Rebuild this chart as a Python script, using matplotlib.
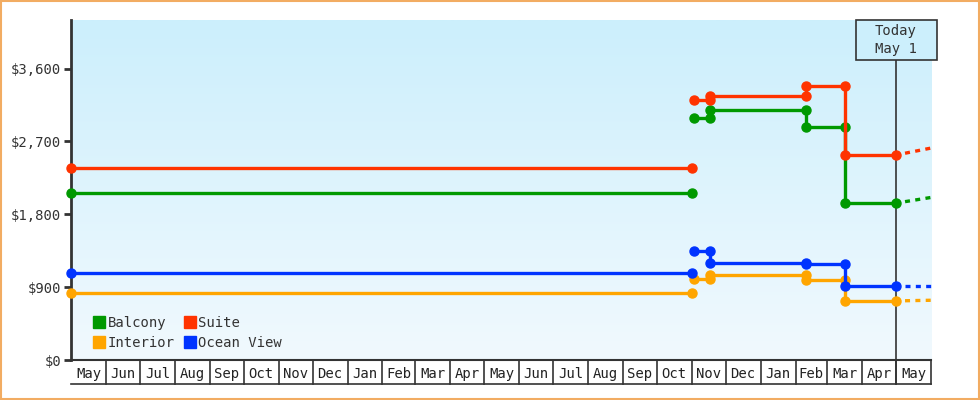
import matplotlib
matplotlib.use("Agg")
import matplotlib.pyplot as plt
import matplotlib.dates as mdates
import matplotlib.transforms as mtransforms
import numpy as np
from matplotlib.lines import Line2D
from matplotlib.colors import LinearSegmentedColormap
import datetime as dt

# ---------------- data ----------------
series_names = ["Balcony", "Interior", "Suite", "Ocean View"]
series_colors = ["#009900", "#ffa500", "#ff3300", "#0033ff"]

seg1_dates = ["2023-05-01", "2024-11-01"]
seg1_values = {"Balcony": 2066, "Interior": 825, "Suite": 2375, "Ocean View": 1072}

seg2_dates = ["2024-11-03", "2024-11-17", "2025-02-10", "2025-03-17", "2025-05-01"]
seg2_values = {
    "Balcony":    [2990, 3093, 2874, 1938],
    "Interior":   [1006, 1052, 986, 730],
    "Suite":      [3208, 3266, 3381, 2532],
    "Ocean View": [1345, 1200, 1190, 911],
}

forecast_date = "2025-06-01"
forecast_values = {"Balcony": 2008, "Interior": 738, "Suite": 2618, "Ocean View": 911}

month_labels = ["May", "Jun", "Jul", "Aug", "Sep", "Oct", "Nov", "Dec", "Jan", "Feb",
                "Mar", "Apr", "May", "Jun", "Jul", "Aug", "Sep", "Oct", "Nov", "Dec",
                "Jan", "Feb", "Mar", "Apr", "May"]
y_ticks = [0, 900, 1800, 2700, 3600]
y_tick_labels = ["$0", "$900", "$1,800", "$2,700", "$3,600"]
today_date = "2025-05-01"
today_label = "Today\nMay 1"

# ---------------- figure ----------------
plt.rcParams['font.family'] = ['DejaVu Sans Mono']
W, H = 980, 400
fig = plt.figure(figsize=(W / 100, H / 100), dpi=100)
fig.patch.set_facecolor("white")
fig.add_artist(plt.Rectangle((0.001, 0.0015), 0.998, 0.997, transform=fig.transFigure,
                             fill=False, edgecolor="#f2ac62", lw=1.5))

ax = fig.add_axes([71 / W, 40 / H, 860 / W, 340 / H])

def d(s):
    return mdates.date2num(dt.datetime.strptime(s, "%Y-%m-%d"))

x_start = d("2023-05-01")
x_end = d("2025-06-01")
ax.set_xlim(x_start, x_end)
ax.set_ylim(0, 4200)

# gradient background
top_col = "#cceffc"
cmap = LinearSegmentedColormap.from_list("bg", ["#f1f9fe", top_col])
grad = np.linspace(0, 1, 256).reshape(-1, 1)
ax.imshow(grad, extent=[0, 1, 0, 1], transform=ax.transAxes, cmap=cmap,
          origin="lower", aspect="auto", zorder=0)

lw = 2.4
for name, color in zip(series_names, series_colors):
    # segment 1
    xs = [d(s) for s in seg1_dates]
    ys = [seg1_values[name]] * 2
    ax.plot(xs, ys, color=color, lw=lw, marker="o", ms=6.5, zorder=3, clip_on=False)
    # segment 2 step
    cd = [d(s) for s in seg2_dates]
    vals = seg2_values[name]
    sx, sy = [], []
    for i, v in enumerate(vals):
        sx += [cd[i], cd[i + 1]]
        sy += [v, v]
    ax.plot(sx, sy, color=color, lw=lw, marker="o", ms=6.5, zorder=3, clip_on=False)
    # forecast (dashed)
    fv = forecast_values[name]
    x0 = cd[-1] + 8
    y0 = vals[-1] + (fv - vals[-1]) * 8 / (d(forecast_date) - cd[-1])
    ax.plot([x0, d(forecast_date)], [y0, fv], color=color, lw=lw,
            ls=(0, (1.5, 1.6)), zorder=3, clip_on=False)

# axes styling
for sp in ["top", "right"]:
    ax.spines[sp].set_visible(False)
ax.spines["left"].set_color("#333333")
ax.spines["left"].set_linewidth(2)
ax.spines["bottom"].set_color("#333333")
ax.spines["bottom"].set_linewidth(1.5)
ax.set_yticks(y_ticks)
ax.set_yticklabels(y_tick_labels)
ax.tick_params(axis="y", length=5, width=2, color="#333333", labelcolor="#333333",
               labelsize=10, pad=2)

# month boxes
month_starts = [d("2023-%02d-01" % m) for m in range(5, 13)] + \
               [d("2024-%02d-01" % m) for m in range(1, 13)] + \
               [d("2025-%02d-01" % m) for m in range(1, 7)]
mids = [(a + b) / 2 for a, b in zip(month_starts[:-1], month_starts[1:])]
ax.set_xticks(mids)
ax.set_xticklabels(month_labels)
ax.tick_params(axis="x", length=0, labelsize=10, labelcolor="#222222", pad=5)
trans = mtransforms.blended_transform_factory(ax.transData, ax.transAxes)
box_h = 24 / 340
for ms_ in month_starts[1:]:
    ax.add_line(Line2D([ms_, ms_], [0, -box_h], transform=trans, color="#333333",
                       lw=1.2, clip_on=False))
ax.add_line(Line2D([x_start, x_end], [-box_h, -box_h], transform=trans, color="#333333",
                   lw=1.2, clip_on=False))

# today marker
xt = d(today_date)
ax.add_line(Line2D([xt, xt], [-box_h, 1 - 40 / 340], transform=trans, color="#333333",
                   lw=1.2, clip_on=False, zorder=2))
xpix = ax.transData.transform((xt, 0))[0]
bw, bh = 81, 40
fig.add_artist(plt.Rectangle(((xpix - bw / 2) / W, (H - 20 - bh) / H), bw / W, bh / H,
                             transform=fig.transFigure, facecolor=top_col,
                             edgecolor="#333333", lw=1.2, zorder=4))
fig.text(xpix / W, (H - 40) / H, today_label, ha="center", va="center",
         fontsize=10, color="#333333", linespacing=1.3, zorder=5)

# legend
handles = [Line2D([], [], ls="none", marker="s", ms=9, color=c) for c in series_colors]
leg = ax.legend(handles, series_names, ncol=2, loc="lower left", bbox_to_anchor=(0.015, 0.0),
                frameon=False, fontsize=10, handlelength=0.8, handletextpad=0.2,
                columnspacing=0.7, labelspacing=0.45, borderaxespad=0.3)
for t in leg.get_texts():
    t.set_color("#333333")

fig.savefig("out.png", dpi=100, facecolor="white")
